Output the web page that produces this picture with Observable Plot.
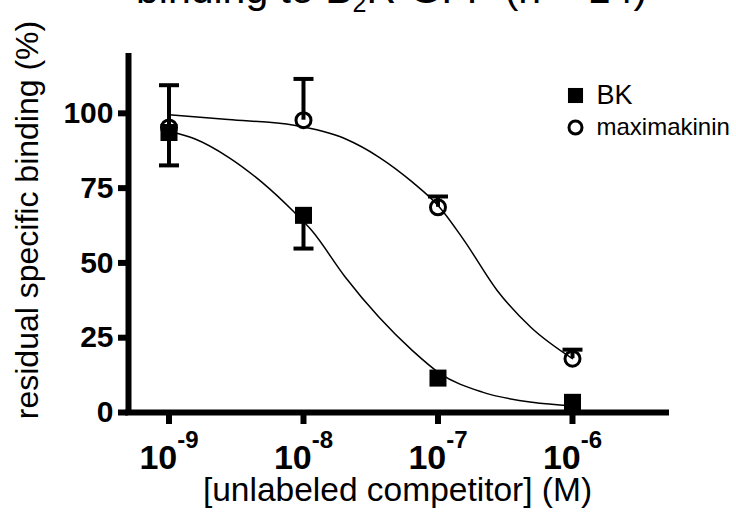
<!DOCTYPE html>
<html>
<head>
<meta charset="utf-8">
<script src="https://cdn.jsdelivr.net/npm/d3@7"></script>
<script src="https://cdn.jsdelivr.net/npm/@observablehq/plot@0.6"></script>
<style>
  body { margin: 0; background: #fff; }
  #wrap { position: relative; width: 736px; height: 514px; overflow: hidden; font-family: "Liberation Sans", Arial, sans-serif; }
  #title { position: absolute; left: 136px; top: -31px; font-size: 41px; line-height: 41px; white-space: nowrap; color: #000; }
  #title .sub { font-size: 25px; vertical-align: -9px; }
  #chart { position: absolute; left: 0; top: 0; }
</style>
</head>
<body>
<div id="wrap">
  <div id="chart"></div>
  <div id="title">binding to B<span class="sub">2</span>R-GFP (n = 14)</div>
</div>
<script>
// ---- data ----
const concentrations = [1e-9, 1e-8, 1e-7, 1e-6];           // M
const bkMean        = [93.6, 65.9, 11.5, 3.4];              // % residual binding, BK
const bkErrLow      = [82.6, 54.8, null, null];             // lower error bar ends (BK)
const maxMean       = [95.3, 97.7, 68.6, 18.0];             // maximakinin
const maxErrHigh    = [109.4, 111.5, 72.2, 21.0];           // upper error bar ends (maximakinin)

// fitted curves, points (log10 concentration, %)
const bkCurveLogX  = [-9.0, -8.81, -8.56, -8.31, -8.07, -7.94, -7.69, -7.44, -7.19, -6.99, -6.67, -6.30, -6.0];
const bkCurveY     = [94.0, 91.5, 85.4, 77.0, 67.0, 60.9, 45.3, 31.9, 20.7, 13.2, 6.8, 3.4, 2.2];
const maxCurveLogX = [-9.0, -8.56, -8.07, -7.69, -7.44, -7.19, -6.99, -6.81, -6.56, -6.31, -6.0];
const maxCurveY    = [99.5, 97.9, 96.0, 91.5, 85.4, 77.0, 68.7, 57.8, 40.8, 28.5, 18.0];

const xTickValues    = [1e-9, 1e-8, 1e-7, 1e-6];
const xTickExponents = ["-9", "-8", "-7", "-6"];
const yTickValues    = [0, 25, 50, 75, 100];
const xDomain = [5e-10, 5e-6];
const yDomain = [0, 120];
const seriesNames = ["BK", "maximakinin"];
const xTitle = "[unlabeled competitor] (M)";
const yTitle = "residual specific binding (%)";

// ---- tables built from the arrays ----
const bkPoints  = concentrations.map((c, i) => ({c, v: bkMean[i], e: bkErrLow[i]}));
const maxPoints = concentrations.map((c, i) => ({c, v: maxMean[i], e: maxErrHigh[i]}));
const bkCurve   = bkCurveLogX.map((lx, i) => ({c: Math.pow(10, lx), v: bkCurveY[i]}));
const maxCurve  = maxCurveLogX.map((lx, i) => ({c: Math.pow(10, lx), v: maxCurveY[i]}));
const bkErr  = bkPoints.filter(d => d.e != null);
const maxErr = maxPoints.filter(d => d.e != null);

const capSymbol = {
  draw(ctx) { ctx.moveTo(-10, -2); ctx.lineTo(10, -2); ctx.lineTo(10, 2); ctx.lineTo(-10, 2); ctx.closePath(); }
};

const chart = Plot.plot({
  width: 736,
  height: 514,
  marginLeft: 128,
  marginRight: 70,
  marginTop: 53,
  marginBottom: 102,
  style: { fontFamily: "'Liberation Sans', Arial, sans-serif", background: "white", color: "black", overflow: "visible" },
  x: { type: "log", domain: xDomain },
  y: { domain: yDomain },
  marks: [
    Plot.axisY({ ticks: yTickValues, tickSize: 10, tickPadding: 5, fontSize: 30, fontWeight: "bold", strokeWidth: 6, label: null, tickFormat: d => String(d) }),
    Plot.axisX({ ticks: xTickValues, tickSize: 12, tickPadding: 20, fontSize: 34, fontWeight: "bold", strokeWidth: 6, label: null,
                 tickFormat: (d, i) => "10^" + xTickExponents[xTickValues.indexOf(d)] }),
    Plot.ruleX([xDomain[0]], { y1: yDomain[0], y2: yDomain[1], strokeWidth: 6 }),
    Plot.ruleY([yDomain[0]], { strokeWidth: 6, strokeLinecap: "square" }),

    Plot.line(bkCurve,  { x: "c", y: "v", curve: "monotone-x", stroke: "black", strokeWidth: 1.5 }),
    Plot.line(maxCurve, { x: "c", y: "v", curve: "monotone-x", stroke: "black", strokeWidth: 1.5 }),

    Plot.ruleX(bkErr,  { x: "c", y1: "v", y2: "e", strokeWidth: 4, stroke: "black" }),
    Plot.ruleX(maxErr, { x: "c", y1: "v", y2: "e", strokeWidth: 4, stroke: "black" }),
    Plot.dot(bkErr,  { x: "c", y: "e", symbol: capSymbol, fill: "black", stroke: "none", r: 5 }),
    Plot.dot(maxErr, { x: "c", y: "e", symbol: capSymbol, fill: "black", stroke: "none", r: 5 }),

    Plot.dot(bkPoints,  { x: "c", y: "v", symbol: "square", r: 9.6, fill: "black", stroke: "none" }),
    Plot.dot(maxPoints, { x: "c", y: "v", symbol: "circle", r: 7.5, fill: "none", stroke: "black", strokeWidth: 3 }),

    // legend
    Plot.dot([seriesNames[0]], { frameAnchor: "top-right", dx: -91, dy: 42, symbol: "square", r: 8.5, fill: "black", stroke: "none" }),
    Plot.dot([seriesNames[1]], { frameAnchor: "top-right", dx: -91, dy: 74, symbol: "circle", r: 6.5, fill: "none", stroke: "black", strokeWidth: 3 }),
    Plot.text([seriesNames[0]], { text: d => d, frameAnchor: "top-right", dx: -70, dy: 42, textAnchor: "start", lineAnchor: "middle", fontSize: 27, fill: "black" }),
    Plot.text([seriesNames[1]], { text: d => d, frameAnchor: "top-right", dx: -70, dy: 74, textAnchor: "start", lineAnchor: "middle", fontSize: 24, fill: "black" }),

    // axis titles
    Plot.text([xTitle], { text: d => d, frameAnchor: "bottom", dy: 78, textAnchor: "middle", lineAnchor: "middle", fontSize: 33.5, fill: "black" }),
    Plot.text([yTitle], { text: d => d, frameAnchor: "left", dx: -101, dy: -13, rotate: -90, textAnchor: "middle", lineAnchor: "middle", fontSize: 32, fill: "black" })
  ]
});
document.getElementById("chart").appendChild(chart);

// superscript exponents on x tick labels
chart.querySelectorAll('[aria-label="x-axis tick label"] text').forEach(t => {
  const parts = t.textContent.split("^");
  if (parts.length !== 2) return;
  t.textContent = "";
  const ns = "http://www.w3.org/2000/svg";
  const base = document.createElementNS(ns, "tspan");
  base.textContent = parts[0];
  const sup = document.createElementNS(ns, "tspan");
  sup.textContent = parts[1];
  sup.setAttribute("dy", "-21");
  sup.setAttribute("font-size", "24");
  t.appendChild(base);
  t.appendChild(sup);
});
</script>
</body>
</html>
